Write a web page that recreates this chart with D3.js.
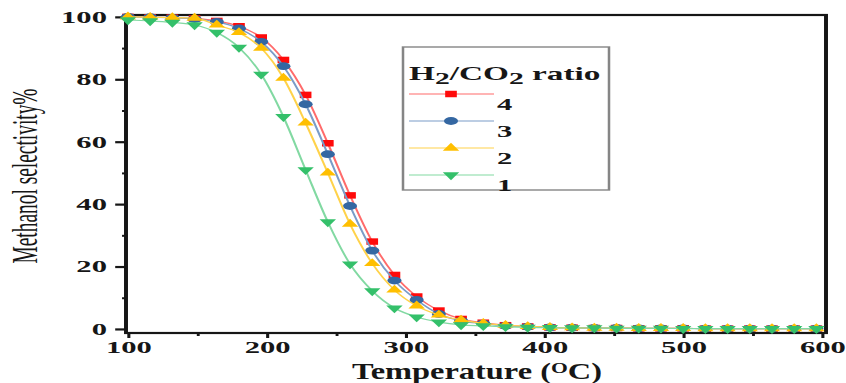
<!DOCTYPE html>
<html>
<head>
<meta charset="utf-8">
<script src="https://cdn.jsdelivr.net/npm/d3@7"></script>
<style>
  html, body { margin: 0; padding: 0; background: #fff; }
  svg { display: block; }
</style>
</head>
<body>
<svg id="chart" width="846" height="383"></svg>
<script>
// Reaction temperature (°C)
const temperatures = [100, 116, 132, 148, 164, 180, 196, 212, 228, 244, 260, 276, 292, 308, 324, 340,
                      356, 372, 388, 404, 420, 436, 452, 468, 484, 500, 516, 532, 548, 564, 580, 596];

// Methanol selectivity (%) for each H2/CO2 feed ratio
const ratio4 = [100, 99.9, 99.8, 99.5, 98.7, 97.0, 93.4, 86.2, 75.0, 59.5, 42.8, 28.0, 17.3, 10.4, 5.9, 3.2,
                2.0, 1.2, 0.8, 0.5, 0.4, 0.3, 0.3, 0.2, 0.2, 0.2, 0.1, 0.1, 0.1, 0.1, 0.1, 0.1];
const ratio3 = [100, 99.9, 99.7, 99.3, 98.4, 96.3, 92.0, 84.2, 72.0, 56.0, 39.4, 25.1, 15.5, 9.3, 4.8, 2.6,
                1.7, 1.0, 0.7, 0.5, 0.4, 0.3, 0.3, 0.2, 0.2, 0.2, 0.1, 0.1, 0.1, 0.1, 0.1, 0.1];
const ratio2 = [100, 99.9, 99.8, 99.6, 97.4, 95.0, 90.0, 80.4, 66.0, 50.0, 33.6, 21.0, 12.5, 7.4, 4.5, 2.9,
                1.8, 1.2, 0.8, 0.5, 0.4, 0.3, 0.3, 0.2, 0.2, 0.2, 0.1, 0.1, 0.1, 0.1, 0.1, 0.1];
const ratio1 = [99.0, 98.7, 98.2, 97.4, 95.0, 90.2, 81.6, 68.0, 51.0, 34.3, 20.8, 12.2, 6.7, 3.8, 2.2, 1.3,
                1.0, 0.7, 0.5, 0.4, 0.3, 0.3, 0.2, 0.2, 0.2, 0.1, 0.1, 0.1, 0.1, 0.1, 0.1, 0.1];

const seriesLabels = ["4", "3", "2", "1"];
const xTicks = [100, 200, 300, 400, 500, 600];
const xMinorTicks = [150, 250, 350, 450, 550];
const yTicks = [0, 20, 40, 60, 80, 100];
const yMinorTicks = [10, 30, 50, 70, 90];

// ---------------------------------------------------------------------------
const SX = 1.8;                 // horizontal stretch of the whole figure
const vx = px => px / SX;       // page pixels -> drawing units along x
const serif = "'Liberation Serif', 'Times New Roman', Times, serif";
const ink = "#161616";

const svg = d3.select("#chart");
const root = svg.append("g").attr("transform", `scale(${SX},1)`);

const x = d3.scaleLinear().domain([98.6, 602.9]).range([vx(126), vx(826)]);
const y = d3.scaleLinear().domain([-1.3, 100.6]).range([333, 15]);

const [x0, x1] = x.range();
const [yB, yT] = y.range();

const series = [
  { label: seriesLabels[0], values: ratio4, line: "#ff6b6b", mark: "#ff0a0a", symbol: d3.symbolSquare,   size: 42, rot: 0 },
  { label: seriesLabels[1], values: ratio3, line: "#7a9cc8", mark: "#3467a2", symbol: d3.symbolCircle,   size: 48, rot: 0 },
  { label: seriesLabels[2], values: ratio2, line: "#ffd24a", mark: "#ffbf00", symbol: d3.symbolTriangle, size: 36, rot: 0 },
  { label: seriesLabels[3], values: ratio1, line: "#82d9a2", mark: "#34c06a", symbol: d3.symbolTriangle, size: 36, rot: 180 }
];

// ---- axes ----------------------------------------------------------------
function styleAxis(g, width) {
  g.select(".domain").remove();
  g.selectAll(".tick line").attr("stroke", ink).attr("stroke-width", width);
  g.selectAll(".tick text")
    .attr("fill", ink)
    .style("font-family", serif)
    .style("font-weight", "bold")
    .style("font-size", "17px");
}

root.append("g")
  .attr("transform", `translate(0,${yB})`)
  .call(d3.axisBottom(x).tickValues(xMinorTicks).tickSize(3).tickFormat(""))
  .call(g => styleAxis(g, 1.6));

root.append("g")
  .attr("transform", `translate(0,${yB})`)
  .call(d3.axisBottom(x).tickValues(xTicks).tickSize(5).tickPadding(3).tickFormat(d3.format("d")))
  .call(g => styleAxis(g, 1.7));

root.append("g")
  .attr("transform", `translate(${x0},0)`)
  .call(d3.axisLeft(y).tickValues(yMinorTicks).tickSize(2.2).tickFormat(""))
  .call(g => styleAxis(g, 2));

root.append("g")
  .attr("transform", `translate(${x0},0)`)
  .call(d3.axisLeft(y).tickValues(yTicks).tickSize(6).tickPadding(4.6).tickFormat(d3.format("d")))
  .call(g => styleAxis(g, 2.2));

// plot frame
root.append("rect")
  .attr("x", x0).attr("y", yT)
  .attr("width", x1 - x0).attr("height", yB - yT)
  .attr("fill", "none").attr("stroke", ink).attr("stroke-width", 2.2);

// ---- data ----------------------------------------------------------------
const line = d3.line()
  .x((d, i) => x(temperatures[i]))
  .y(d => y(d))
  .curve(d3.curveMonotoneX);

series.forEach(s => {
  const g = root.append("g");
  g.append("path")
    .attr("d", line(s.values))
    .attr("fill", "none")
    .attr("stroke", s.line)
    .attr("stroke-width", 1.2);
  g.selectAll("path.mark")
    .data(s.values)
    .join("path")
    .attr("class", "mark")
    .attr("d", d3.symbol().type(s.symbol).size(s.size))
    .attr("transform", (d, i) => `translate(${x(temperatures[i])},${y(d)}) rotate(${s.rot})`)
    .attr("fill", s.mark);
});

// ---- legend --------------------------------------------------------------
const legend = root.append("g");
legend.append("rect")
  .attr("x", vx(403)).attr("y", 47)
  .attr("width", vx(609) - vx(403)).attr("height", 143)
  .attr("fill", "none").attr("stroke", "#858585").attr("stroke-width", 1.4);

const title = legend.append("text")
  .attr("x", vx(409)).attr("y", 80)
  .attr("fill", ink)
  .style("font-family", serif).style("font-weight", "bold").style("font-size", "18.5px");
title.append("tspan").text("H");
title.append("tspan").attr("dy", 4).style("font-size", "16.5px").text("2");
title.append("tspan").attr("dy", -4).text("/CO");
title.append("tspan").attr("dy", 4).style("font-size", "16.5px").text("2");
title.append("tspan").attr("dy", -4).text(" ratio");

const rowY = [94, 121, 148, 175];
series.forEach((s, i) => {
  const ly = rowY[i];
  legend.append("line")
    .attr("x1", vx(409)).attr("x2", vx(494))
    .attr("y1", ly).attr("y2", ly)
    .attr("stroke", s.line).attr("stroke-width", 1.2);
  legend.append("path")
    .attr("d", d3.symbol().type(s.symbol).size(s.size))
    .attr("transform", `translate(${vx(451)},${ly}) rotate(${s.rot})`)
    .attr("fill", s.mark);
  legend.append("text")
    .attr("x", vx(497)).attr("y", ly + 16)
    .attr("fill", ink)
    .style("font-family", serif).style("font-weight", "bold").style("font-size", "17px")
    .text(s.label);
});

// ---- axis titles -----------------------------------------------------------
// horizontal factor that makes a text element span a given page width
function fitWidth(sel, pagePx) {
  const w = sel.node().getBBox().width;
  return (pagePx / SX) / w;
}

const xTitleG = root.append("g").attr("transform", `translate(${vx(477)},378.5)`);
const xTitle = xTitleG.append("text")
  .attr("text-anchor", "middle")
  .attr("fill", ink)
  .style("font-family", serif).style("font-weight", "bold").style("font-size", "22.5px");
xTitle.append("tspan").text("Temperature (");
xTitle.append("tspan").attr("dy", -6).style("font-size", "15px").text("O");
xTitle.append("tspan").attr("dy", 6).text("C)");
xTitle.attr("transform", `scale(${fitWidth(xTitle, 250)},1)`);

const yTitle = root.append("text")
  .attr("text-anchor", "middle")
  .attr("fill", ink)
  .style("font-family", serif).style("font-size", "20px")
  .text("Methanol selectivity%");
const yLen = yTitle.node().getBBox().width;
yTitle.attr("transform", `translate(${vx(37)},176) rotate(-90) scale(${175 / yLen},1)`);
</script>
</body>
</html>
